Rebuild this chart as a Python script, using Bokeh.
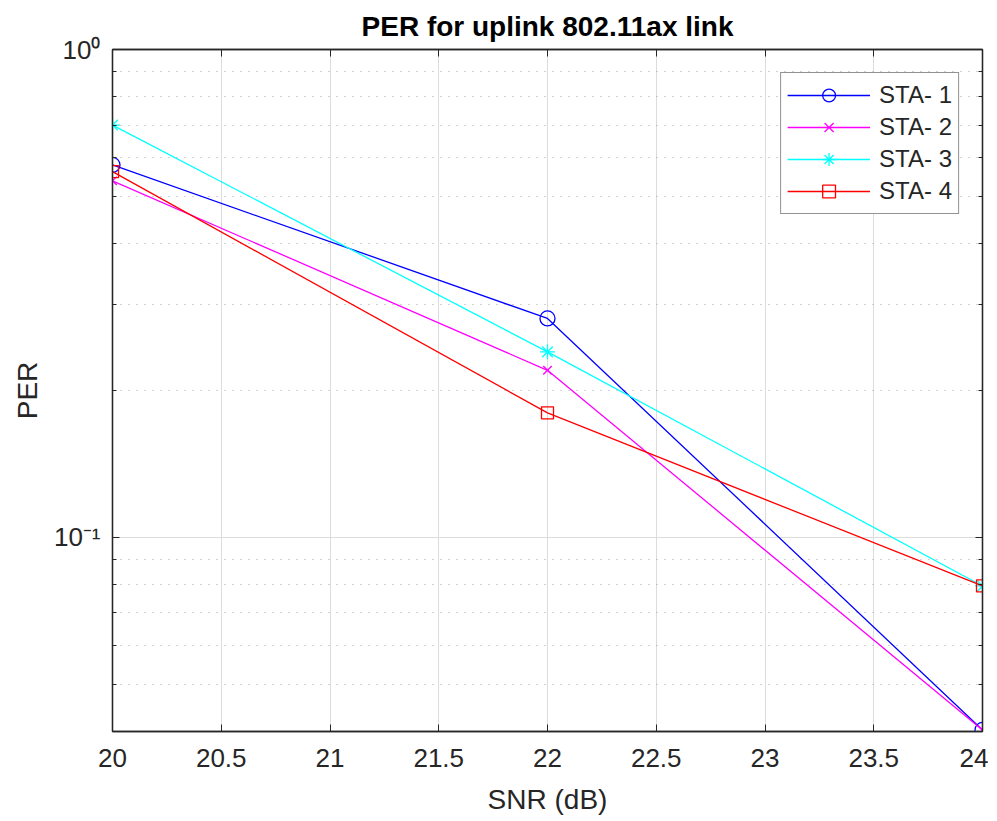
from bokeh.plotting import figure
from bokeh.models import Range1d, FixedTicker, Legend, LegendItem, LinearAxis, LogAxis
from bokeh.embed import file_html
from bokeh.resources import INLINE

snr = [20, 22, 24]
sta1 = [0.580, 0.281, 0.0403]
sta2 = [0.538, 0.220, 0.0403]
sta3 = [0.700, 0.240, 0.0795]
sta4 = [0.562, 0.180, 0.0795]
names = ["STA- 1", "STA- 2", "STA- 3", "STA- 4"]
series = [sta1, sta2, sta3, sta4]
colors = ["#0000ff", "#ff00ff", "#00ffff", "#ff0000"]
markers = ["circle", "x", "asterisk", "square"]
marker_sizes = [15, 12, 15, 12]
x_ticks = [20, 20.5, 21, 21.5, 22, 22.5, 23, 23.5, 24]
y_major = [0.1, 1.0]
y_minor = [0.05, 0.06, 0.07, 0.08, 0.09, 0.2, 0.3, 0.4, 0.5, 0.6, 0.7, 0.8, 0.9]

FONT = "Liberation Sans"
DARK = "#262626"

p = figure(width=988, height=817, y_axis_type="log",
           x_range=Range1d(20, 24), y_range=Range1d(0.04, 1.0),
           output_backend="svg", toolbar_location=None,
           min_border_left=112, min_border_right=6, min_border_top=48, min_border_bottom=84,
           title="PER for uplink 802.11ax link")
p.background_fill_color = "white"
p.border_fill_color = "white"
p.outline_line_color = DARK
p.outline_line_width = 1.3

p.title.align = "center"
p.title.text_font = FONT
p.title.text_font_size = "28px"
p.title.text_font_style = "bold"
p.title.text_color = "black"
p.title.standoff = 16

xax = p.below[0]
yax = p.left[0]
xax.ticker = FixedTicker(ticks=x_ticks)
yax.ticker = FixedTicker(ticks=y_major, minor_ticks=y_minor)
yax.major_label_overrides = {1.0: "10⁰", 0.1: "10⁻¹"}

# extra (unlabelled) axes on top and right, like a boxed MATLAB axes
top_ax = LinearAxis(ticker=FixedTicker(ticks=x_ticks))
right_ax = LogAxis(ticker=FixedTicker(ticks=y_major, minor_ticks=y_minor))
for ax in [top_ax, right_ax]:
    ax.major_label_text_font_size = "2px"
    ax.major_label_text_color = None
    ax.major_label_standoff = 0
p.add_layout(top_ax, "above")
p.add_layout(right_ax, "right")

for ax in [xax, yax, top_ax, right_ax]:
    ax.axis_line_color = DARK
    ax.axis_line_width = 1.3
    ax.major_tick_line_color = DARK
    ax.minor_tick_line_color = DARK
    ax.major_tick_in = 7
    ax.major_tick_out = 0
    ax.minor_tick_in = 4
    ax.minor_tick_out = 0
top_ax.minor_tick_line_color = None
xax.minor_tick_line_color = None

for ax in [xax, yax]:
    ax.major_label_text_font = FONT
    ax.major_label_text_font_size = "26px"
    ax.major_label_text_color = DARK
    ax.axis_label_text_font = FONT
    ax.axis_label_text_font_style = "normal"
    ax.axis_label_text_color = DARK
    ax.axis_label_text_font_size = "28px"

xax.axis_label = "SNR (dB)"
xax.major_label_standoff = 17
xax.axis_label_standoff = 14
yax.axis_label = "PER"
yax.major_label_standoff = 12
yax.axis_label_standoff = 8

p.xgrid.grid_line_color = "#dcdcdc"
p.ygrid.grid_line_color = "#dcdcdc"
p.ygrid.minor_grid_line_color = "#a8a8a8"
p.ygrid.minor_grid_line_dash = "1 7"

items = []
for name, ys, c, m, s in zip(names, series, colors, markers, marker_sizes):
    ln = p.line(snr, ys, line_color=c, line_width=1.3)
    sc = p.scatter(snr, ys, marker=m, size=s, line_color=c, fill_color=None, line_width=1.3)
    items.append(LegendItem(label=name, renderers=[ln, sc]))

legend = Legend(items=items, location="top_right")
legend.margin = 23
legend.border_line_color = DARK
legend.border_line_width = 1.3
legend.background_fill_color = "white"
legend.label_text_font = FONT
legend.label_text_font_size = "24px"
legend.label_text_color = DARK
legend.glyph_width = 83
legend.glyph_height = 32
legend.label_height = 32
legend.spacing = 0
legend.padding = 6
legend.label_standoff = 9
p.add_layout(legend)

open("out.html", "w").write(file_html(p, INLINE))
